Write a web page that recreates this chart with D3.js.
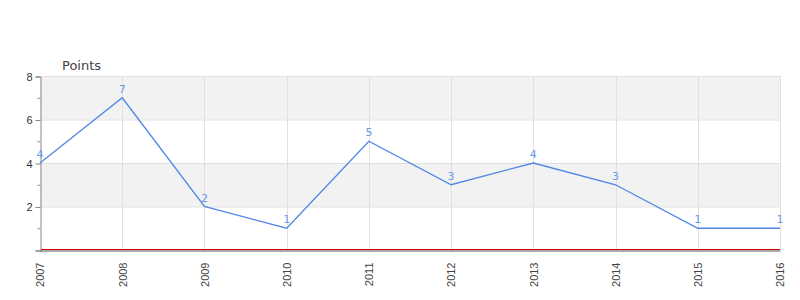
<!DOCTYPE html>
<html>
<head>
<meta charset="utf-8">
<script src="https://cdn.jsdelivr.net/npm/d3@7"></script>
<style>
    body { margin: 0; background: #fff; }
    svg { display: block; font-family: "DejaVu Sans", sans-serif; }
</style>
</head>
<body>
<div id="chart"></div>
<script>
// Chart data
const years = ['2007', '2008', '2009', '2010', '2011', '2012', '2013', '2014', '2015', '2016'];
const points = [4, 7, 2, 1, 5, 3, 4, 3, 1, 1];
const yMajorTicks = [2, 4, 6, 8];
const yMinorTicks = [1, 3, 5, 7];
const bands = [[2, 4], [6, 8]];

const width = 800;
const height = 300;
const margin = { top: 76, right: 20, bottom: 50, left: 40 };

const svg = d3.select('#chart')
    .append('svg')
    .attr('width', width)
    .attr('height', height);

const x = d3.scalePoint()
    .domain(years)
    .range([margin.left, width - margin.right]);

const y = d3.scaleLinear()
    .domain([0, 8])
    .range([height - margin.bottom, margin.top]);

// Alternating shaded bands
svg.selectAll('.band')
    .data(bands)
    .enter()
    .append('rect')
    .attr('x', margin.left)
    .attr('width', width - margin.right - margin.left)
    .attr('y', d => y(d[1]))
    .attr('height', d => y(d[0]) - y(d[1]))
    .style('fill', '#f2f2f2');

// Horizontal grid lines
svg.selectAll('.hgrid')
    .data(yMajorTicks)
    .enter()
    .append('line')
    .attr('x1', margin.left)
    .attr('x2', width - margin.right)
    .attr('y1', d => y(d) + 0.5)
    .attr('y2', d => y(d) + 0.5)
    .style('stroke', '#e0e0e0');

// Vertical grid lines
svg.selectAll('.vgrid')
    .data(years.slice(1))
    .enter()
    .append('line')
    .attr('x1', d => Math.round(x(d)) + 0.5)
    .attr('x2', d => Math.round(x(d)) + 0.5)
    .attr('y1', y(8))
    .attr('y2', y(0))
    .style('stroke', '#e0e0e0');

// Y axis
const yAxis = svg.append('g')
    .attr('transform', `translate(${margin.left + 0.5}, 0.5)`)
    .call(d3.axisLeft(y).tickValues([0, ...yMajorTicks]).tickSize(5).tickPadding(3)
        .tickFormat(d => d === 0 ? '' : d));
yAxis.select('.domain').style('stroke', '#888');
yAxis.selectAll('.tick line').style('stroke', '#888');
yAxis.selectAll('text').style('fill', '#333').style('font-size', '11px');

svg.append('g')
    .attr('transform', `translate(${margin.left + 0.5}, 0.5)`)
    .selectAll('line')
    .data(yMinorTicks)
    .enter()
    .append('line')
    .attr('x1', -3)
    .attr('x2', 0)
    .attr('y1', d => y(d))
    .attr('y2', d => y(d))
    .style('stroke', '#888');

// Bottom axis: grey base with red zero line
const xAxis = svg.append('g')
    .attr('transform', `translate(0, ${y(0) + 0.5})`)
    .call(d3.axisBottom(x).tickSize(0));
xAxis.select('.domain').style('stroke', '#555');
xAxis.selectAll('text')
    .attr('transform', 'rotate(-90)')
    .attr('x', -12)
    .attr('y', 0)
    .attr('dy', '0.35em')
    .style('text-anchor', 'end')
    .style('fill', '#444')
    .style('font-family', '"Liberation Sans", Arial, sans-serif')
    .style('font-size', '11px');

svg.append('line')
    .attr('x1', margin.left + 1)
    .attr('x2', width - margin.right)
    .attr('y1', y(0) - 0.5)
    .attr('y2', y(0) - 0.5)
    .style('stroke', '#d40000');

// Series line
const line = d3.line()
    .x((d, i) => x(years[i]))
    .y(d => y(d));

svg.append('path')
    .datum(points)
    .attr('d', line)
    .style('fill', 'none')
    .style('stroke', '#4f86e6')
    .style('stroke-width', '1.3px');

// Value labels
svg.selectAll('.val')
    .data(points)
    .enter()
    .append('text')
    .attr('x', (d, i) => x(years[i]))
    .attr('y', d => y(d) - 5)
    .attr('text-anchor', 'middle')
    .text(d => d)
    .style('fill', '#6b9aea')
    .style('font-size', '11px');

// Axis title
svg.append('text')
    .attr('x', 62)
    .attr('y', 70)
    .text('Points')
    .style('fill', '#444')
    .style('font-size', '13px');
</script>
</body>
</html>
